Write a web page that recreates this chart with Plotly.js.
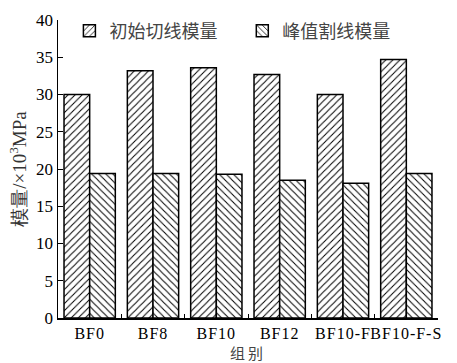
<!DOCTYPE html>
<html>
<head>
<meta charset="utf-8">
<script src="https://cdn.plot.ly/plotly-3.0.1.min.js"></script>
<style>
  html, body { margin: 0; padding: 0; background: #fff; }
  #chart { width: 457px; height: 363px; }
  /* slightly spaced lettering for group labels and axis title */
  #chart .xtick text { letter-spacing: 1px; }
  #chart .g-xtitle text { letter-spacing: 3px; }
</style>
</head>
<body>
<div id="chart"></div>
<script>
// Specimen groups and the two moduli (×10^3 MPa)
const groups = ["BF0", "BF8", "BF10", "BF12", "BF10-F", "BF10-F-S"];
const initialTangent = [30.0, 33.2, 33.6, 32.7, 30.0, 34.7];
const peakSecant = [19.4, 19.4, 19.3, 18.5, 18.1, 19.4];
const seriesNames = ["初始切线模量", "峰值割线模量"];
const yTicks = [0, 5, 10, 15, 20, 25, 30, 35, 40];

const serif = "Liberation Serif, Times New Roman, serif";
const cjk = "Noto Sans CJK SC, sans-serif";

function barTrace(name, values, shape, legendId) {
  return {
    type: "bar",
    name: name,
    x: groups,
    y: values,
    legend: legendId,
    marker: {
      color: "#ffffff",
      line: { color: "#000000", width: 1.5 },
      pattern: { shape: shape, fgcolor: "#000000", bgcolor: "#ffffff", size: 5, solidity: 0.2 }
    },
    hoverinfo: "skip"
  };
}

const data = [
  barTrace(seriesNames[0], initialTangent, "/", "legend"),
  barTrace(seriesNames[1], peakSecant, "\\", "legend2")
];

const legendBase = {
  orientation: "h",
  y: 1.025,
  xanchor: "left", yanchor: "top",
  font: { family: cjk, size: 18, color: "#444" },
  bgcolor: "rgba(0,0,0,0)"
};

const layout = {
  width: 457,
  height: 363,
  margin: { l: 58, r: 19, t: 20, b: 45 },
  paper_bgcolor: "#ffffff",
  plot_bgcolor: "#ffffff",
  barmode: "group",
  bargap: 0.19,
  bargroupgap: 0,
  showlegend: true,
  legend: Object.assign({}, legendBase, { x: 0.03 }),
  legend2: Object.assign({}, legendBase, { x: 0.485 }),
  xaxis: {
    type: "category",
    showline: true,
    linecolor: "#000",
    linewidth: 1.5,
    ticks: "inside",
    tickson: "boundaries",
    ticklen: 4,
    tickcolor: "#000",
    tickangle: 0,
    tickfont: { family: serif, size: 16, color: "#000" },
    title: { text: "组别", font: { family: cjk, size: 15, color: "#444" }, standoff: 0 },
    showgrid: false,
    zeroline: false
  },
  yaxis: {
    range: [0, 40],
    tickvals: yTicks,
    showline: true,
    linecolor: "#000",
    linewidth: 1.5,
    ticks: "inside",
    ticklen: 5,
    tickcolor: "#000",
    tickfont: { family: serif, size: 17, color: "#000" },
    title: { text: "模量/×10<sup>3</sup>MPa", font: { family: serif, size: 19, color: "#333" }, standoff: 4 },
    showgrid: false,
    zeroline: false
  }
};

Plotly.newPlot("chart", data, layout, { displayModeBar: false, staticPlot: true });
</script>
</body>
</html>
